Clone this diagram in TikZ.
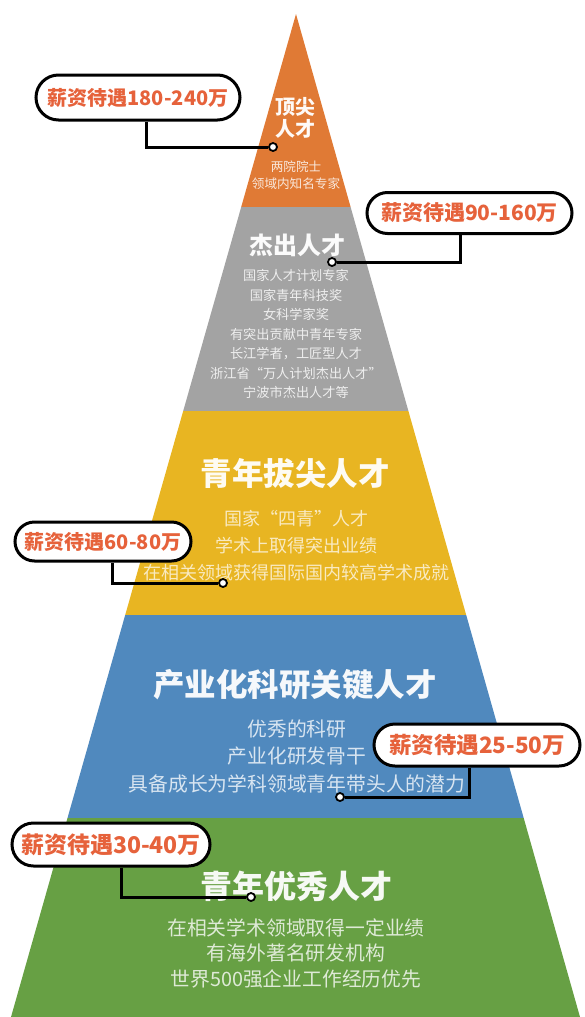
\documentclass[tikz,border=0pt]{standalone}
\usepackage{fontspec}
\newfontfamily\cjk{Noto Sans CJK SC}
\usetikzlibrary{shapes.misc}
\definecolor{corange}{HTML}{E07A35}
\definecolor{cgray}{HTML}{A3A3A3}
\definecolor{cyellow}{HTML}{E8B522}
\definecolor{cblue}{HTML}{5089BE}
\definecolor{cgreen}{HTML}{67A044}
\definecolor{salcol}{HTML}{E6623B}
\tikzset{
  salary/.style={rounded rectangle, draw=black, line width=3pt, fill=white, text=salcol, inner sep=0pt},
  dot/.style={circle, draw=black, line width=1.8pt, fill=white, inner sep=0pt, minimum size=8pt},
  conn/.style={draw=black, line width=3pt},
  ttl/.style={text=white, align=center, inner sep=0pt},
  sub/.style={align=center, inner sep=0pt}
}
\begin{document}
\begin{tikzpicture}[x=1pt,y=-1pt]
\useasboundingbox (0,0) rectangle (585,1017);
% pyramid bands
\fill[corange] (296,14) -- (350.6,207) -- (241.2,207) -- cycle;
\fill[cgray] (241.2,207) -- (350.6,207) -- (408.4,411) -- (183.2,411) -- cycle;
\fill[cyellow] (183.2,411) -- (408.4,411) -- (466.2,615) -- (125.2,615) -- cycle;
\fill[cblue] (125.2,615) -- (466.2,615) -- (523.7,818) -- (67.5,818) -- cycle;
\fill[cgreen] (67.5,818) -- (523.7,818) -- (580,1017) -- (11,1017) -- cycle;

% texts
\node[ttl, text=white!96!corange, font=\cjk\bfseries\fontsize{20}{21.5}\selectfont] (t1) at (295,118) {顶尖\\人才};
\node[sub, text=white!82!corange, font=\cjk\fontsize{12.6}{17}\selectfont] (s1) at (296,175) {两院院士\\领域内知名专家};

\node[ttl, text=white!96!cgray, font=\cjk\bfseries\fontsize{24}{24}\selectfont] (t2) at (297,245) {杰出人才};
\node[sub, text=white!82!cgray, font=\cjk\fontsize{13.2}{19.5}\selectfont] (s2) at (296,334) {国家人才计划专家\\国家青年科技奖\\女科学家奖\\有突出贡献中青年专家\\长江学者，工匠型人才\\浙江省“万人计划杰出人才”\\宁波市杰出人才等};

\node[ttl, text=white!94!cyellow, font=\cjk\bfseries\fontsize{31.5}{31.5}\selectfont] (t3) at (295,473) {青年拔尖人才};
\node[sub, text=white!72!cyellow, font=\cjk\fontsize{18}{27}\selectfont] (s3) at (296,546) {国家“四青”人才\\学术上取得突出业绩\\在相关领域获得国际国内较高学术成就};

\node[ttl, text=white!94!cblue, font=\cjk\bfseries\fontsize{31.5}{31.5}\selectfont] (t4) at (295,685) {产业化科研关键人才};
\node[sub, text=white!78!cblue, font=\cjk\fontsize{19.8}{27.5}\selectfont] (s4) at (297,756) {优秀的科研\\产业化研发骨干\\具备成长为学科领域青年带头人的潜力};

\node[ttl, text=white!94!cgreen, font=\cjk\bfseries\fontsize{32}{32}\selectfont] (t5) at (296,886) {青年优秀人才};
\node[sub, text=white!78!cgreen, font=\cjk\fontsize{19.8}{25.5}\selectfont] (s5) at (296,953) {在相关学术领域取得一定业绩\\有海外著名研发机构\\世界500强企业工作经历优先};

% salary labels
\node[salary, minimum width=204pt, minimum height=45pt, font=\cjk\bfseries\fontsize{20}{20}\selectfont] (l1) at (138,97.5) {薪资待遇180-240万};
\node[salary, minimum width=205pt, minimum height=41pt, font=\cjk\bfseries\fontsize{21}{21}\selectfont] (l2) at (469.5,213) {薪资待遇90-160万};
\node[salary, minimum width=176pt, minimum height=39pt, font=\cjk\bfseries\fontsize{20}{20}\selectfont] (l3) at (103,541.5) {薪资待遇60-80万};
\node[salary, minimum width=206pt, minimum height=42pt, font=\cjk\bfseries\fontsize{22.5}{22.5}\selectfont] (l4) at (477,745) {薪资待遇25-50万};
\node[salary, minimum width=198pt, minimum height=43pt, font=\cjk\bfseries\fontsize{23}{23}\selectfont] (l5) at (111,844.5) {薪资待遇30-40万};

% dots
\node[dot] (d1) at (273,147) {};
\node[dot] (d2) at (332,262) {};
\node[dot] (d3) at (223,583) {};
\node[dot] (d4) at (340,797) {};
\node[dot] (d5) at (251,897) {};

% connector x positions
\coordinate (k1) at (146,0);
\coordinate (k2) at (460,0);
\coordinate (k3) at (112,0);
\coordinate (k4) at (469,0);
\coordinate (k5) at (121,0);

\draw[conn] (l1.south -| k1) |- (d1);
\draw[conn] (l2.south -| k2) |- (d2);
\draw[conn] (l3.south -| k3) |- (d3);
\draw[conn] (l4.south -| k4) |- (d4);
\draw[conn] (l5.south -| k5) |- (d5);
\end{tikzpicture}
\end{document}
